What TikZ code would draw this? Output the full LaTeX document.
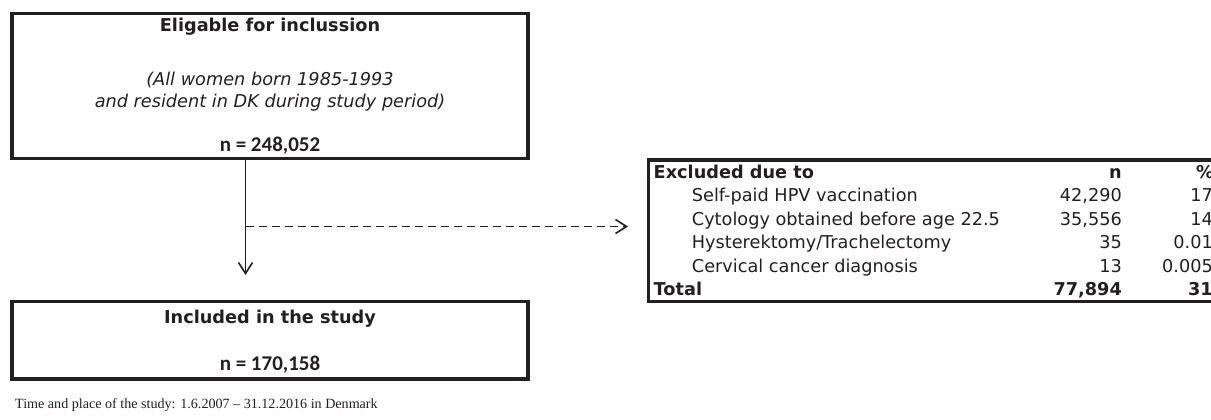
\documentclass[tikz,border=0pt]{standalone}
\usepackage{fontspec}
\usepackage{xcolor}
\setmainfont{DejaVu Sans}
\newfontfamily\countfont{Carlito}
\newfontfamily\notefont{Liberation Serif}
\usetikzlibrary{arrows.meta}
\definecolor{inkgray}{RGB}{35,31,32}

\tikzset{
  frame/.style={draw=inkgray, line width=3.3pt, inner sep=0pt},
  boxtitle/.style={anchor=base, inner sep=0pt, text=inkgray, font=\fontsize{17.7}{20}\selectfont\bfseries},
  boxnote/.style={anchor=base, inner sep=0pt, text=inkgray, font=\fontsize{17.7}{20}\selectfont\itshape},
  boxcount/.style={anchor=base, inner sep=0pt, text=inkgray, font=\fontsize{21}{24}\countfont\bfseries},
  rowlabel/.style={anchor=base west, inner sep=0pt, text=inkgray, font=\fontsize{17.7}{20}\selectfont},
  rownum/.style={anchor=base east, inner sep=0pt, text=inkgray, font=\fontsize{17.7}{20}\selectfont},
  flow/.style={draw=inkgray, line width=1.6pt, -{Straight Barb[length=11pt,width=14pt]}}
}

\begin{document}
\begin{tikzpicture}[x=1pt,y=-1pt]
  \useasboundingbox (0,0) rectangle (1211,420);
  \clip (0,0) rectangle (1211,420);

  % Eligible population
  \node[frame, minimum width=516pt, minimum height=145pt] (eligible) at (270,85.8) {};
  \node[boxtitle] (eligtitle) at (270,31.5) {Eligable for inclussion};
  \node[boxnote] (elignote) at (270,86) {(All women born 1985-1993};
  \node[boxnote] (elignotetwo) at (270,107) {and resident in DK during study period)};
  \node[boxcount] (eligcount) at (270,151.5) {n = 248,052};

  % Included population
  \node[frame, minimum width=516pt, minimum height=77.3pt] (included) at (270,340.3) {};
  \node[boxtitle] (incltitle) at (270,323) {Included in the study};
  \node[boxcount] (inclcount) at (270,370) {n = 170,158};

  % Exclusion table
  \node[frame, minimum width=600pt, minimum height=141.7pt] (excluded) at (948.7,230.8) {};
  \node[rowlabel, font=\fontsize{17.7}{20}\selectfont\bfseries] (exhead) at (653.5,178) {Excluded due to};
  \node[rownum, font=\fontsize{17.7}{20}\selectfont\bfseries] (exheadn) at (1122,178) {n};
  \node[rownum, font=\fontsize{17.7}{20}\selectfont\bfseries] (exheadpct) at (1214,178) {\%};

  \node[rowlabel] (selfpaid) at (691.7,201.5) {Self-paid HPV vaccination};
  \node[rownum] (selfpaidn) at (1122,201.5) {42,290};
  \node[rownum] (selfpaidpct) at (1213,201.5) {17};

  \node[rowlabel] (cytology) at (691.7,225) {Cytology obtained before age 22.5};
  \node[rownum] (cytologyn) at (1122,225) {35,556};
  \node[rownum] (cytologypct) at (1213,225) {14};

  \node[rowlabel] (hysterectomy) at (691.7,248.5) {Hysterektomy/Trachelectomy};
  \node[rownum] (hysterectomyn) at (1122,248.5) {35};
  \node[rownum] (hysterectomypct) at (1213,248.5) {0.01};

  \node[rowlabel] (cancer) at (691.7,272) {Cervical cancer diagnosis};
  \node[rownum] (cancern) at (1122,272) {13};
  \node[rownum] (cancerpct) at (1213,272) {0.005};

  \node[rowlabel, font=\fontsize{17.7}{20}\selectfont\bfseries] (total) at (653.5,295.5) {Total};
  \node[rownum, font=\fontsize{17.7}{20}\selectfont\bfseries] (totaln) at (1122,295.5) {77,894};
  \node[rownum, font=\fontsize{17.7}{20}\selectfont\bfseries] (totalpct) at (1213,295.5) {31};

  % Arrows
  \coordinate (split) at (245.5,226.5);
  \coordinate (stop) at (245.5,275);
  \coordinate (gap) at (628,226.5);
  \draw[flow] (eligible.south -| split) -- (stop);
  \draw[flow, dash pattern=on 8pt off 5pt] (split) -- (gap);

  % Footnote
  \node[anchor=base west, inner sep=0pt, text=inkgray, font=\fontsize{14.1}{16}\notefont] (period) at (15,408)
    {Time and place of the study: 1.6.2007 – 31.12.2016 in Denmark};
\end{tikzpicture}
\end{document}
